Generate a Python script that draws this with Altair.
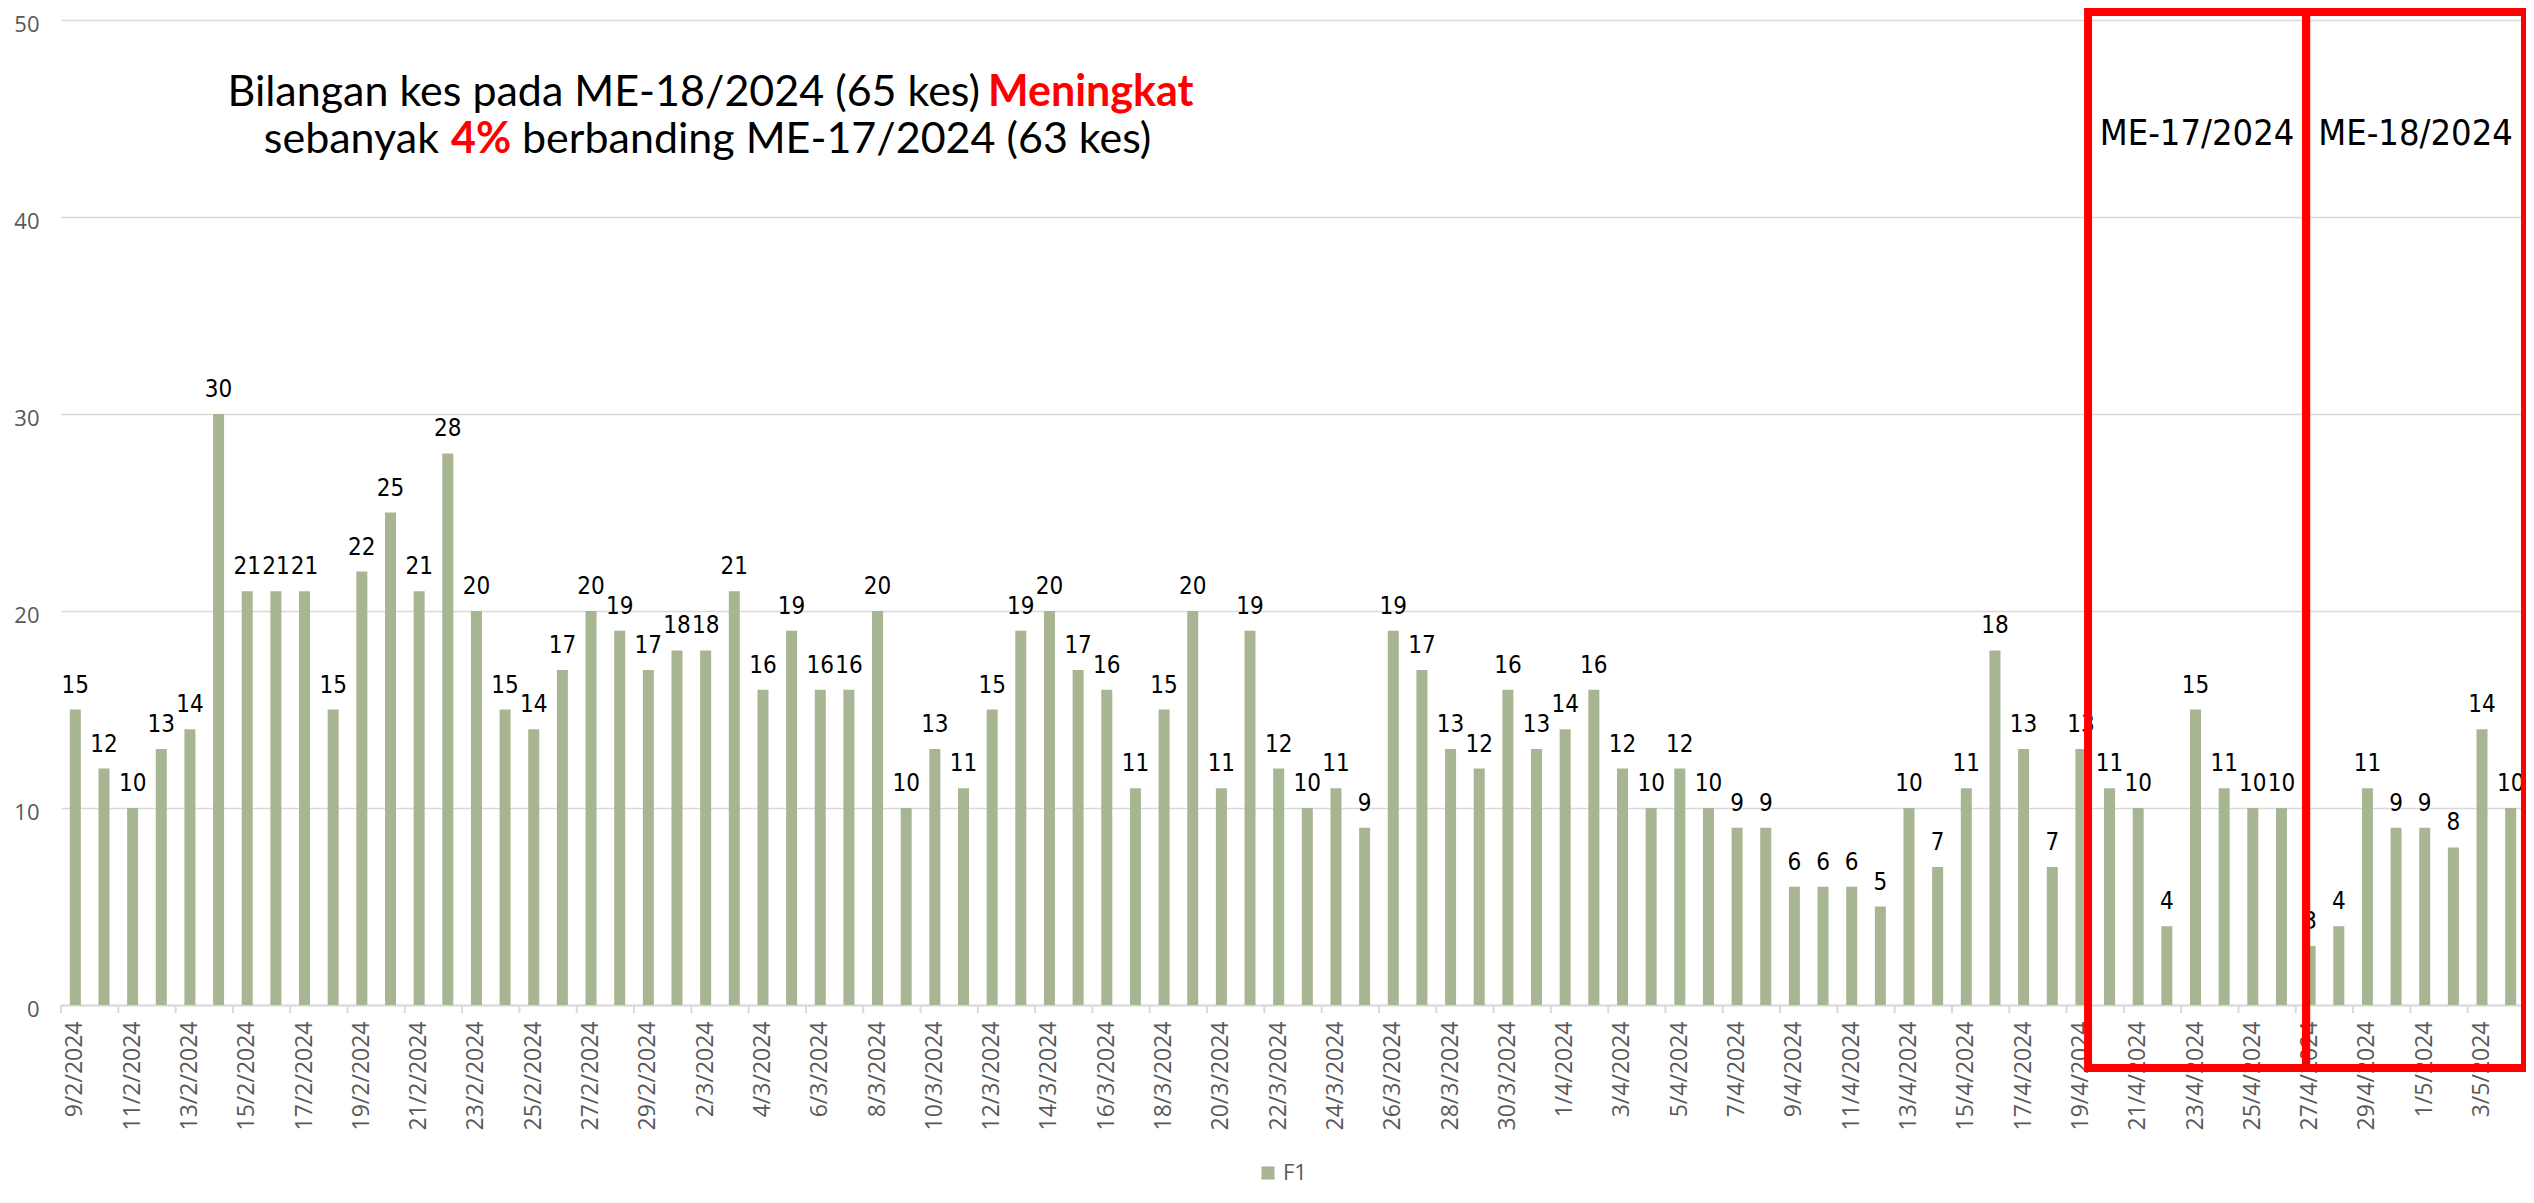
import datetime as dt
import altair as alt
import pandas as pd

# ---- data ----
start = dt.date(2024, 2, 9)
dates = [f"{d.day}/{d.month}/{d.year}" for d in (start + dt.timedelta(days=i) for i in range(86))]
cases = [15, 12, 10, 13, 14, 30, 21, 21, 21, 15, 22, 25, 21, 28, 20, 15, 14, 17, 20, 19,
         17, 18, 18, 21, 16, 19, 16, 16, 20, 10, 13, 11, 15, 19, 20, 17, 16, 11, 15, 20,
         11, 19, 12, 10, 11, 9, 19, 17, 13, 12, 16, 13, 14, 16, 12, 10, 12, 10, 9, 9,
         6, 6, 6, 5, 10, 7, 11, 18, 13, 7, 13, 11, 10, 4, 15, 11, 10, 10, 3, 4,
         11, 9, 9, 8, 14, 10]
series_name = "F1"
y_ticks = [0, 10, 20, 30, 40, 50]
week_labels = ["ME-17/2024", "ME-18/2024"]

df = pd.DataFrame({"date": dates, "cases": cases, "series": series_name,
                   "idx": list(range(len(dates)))})

W, H = 2464, 985
LEFT = 61   # page x of plot left edge
TOP = 20    # page y of plot top edge
step = W / len(dates)
BAR = "#a7b593"
GRID = "#d9d9d9"
AX = "#595959"

xscale = alt.Scale(domain=dates, paddingInner=0, paddingOuter=0)
yscale = alt.Scale(domain=[0, 50])

base = alt.Chart(df)

bars = base.mark_bar(size=11).encode(
    x=alt.X("date:N", scale=xscale, title=None,
            axis=alt.Axis(values=dates[::2], labelAngle=-90, ticks=False,
                          domainColor=GRID, domainWidth=2, labelColor=AX,
                          labelFont="Open Sans", labelFontSize=23, labelPadding=16,
                          grid=False)),
    y=alt.Y("cases:Q", scale=yscale, title=None,
            axis=alt.Axis(values=y_ticks, domain=False, ticks=False, gridColor=GRID,
                          gridWidth=1.5, labelColor=AX, labelFont="Open Sans",
                          labelFontSize=22, labelPadding=22, labelOffset=4)),
    color=alt.Color("series:N", scale=alt.Scale(range=[BAR]), title=None,
                    legend=alt.Legend(orient="none", legendX=1196, legendY=1142,
                                      symbolType="square", symbolSize=170,
                                      symbolStrokeWidth=0, labelFont="Open Sans",
                                      labelFontSize=22, labelColor=AX, padding=0)),
)

labels = base.mark_text(font="DejaVu Sans Condensed", fontSize=24, color="black",
                        baseline="alphabetic", dy=-17).encode(
    x=alt.X("date:N", scale=xscale),
    y=alt.Y("cases:Q", scale=yscale),
    text=alt.Text("cases:Q"),
)

ticks = base.transform_filter("datum.idx % 2 == 0").mark_rule(
    color=GRID, strokeWidth=2).encode(
    x=alt.X("date:N", scale=xscale, bandPosition=0),
    y=alt.value(H), y2=alt.value(H + 8),
)

bx0, bx1, bx2 = step * 70.75, step * 78.36, W
box_top, box_bot = 12 - TOP, 1068 - TOP
one = pd.DataFrame({"a": [0]})
box1 = alt.Chart(one).mark_rect(fillOpacity=0, stroke="#ff0000", strokeWidth=8).encode(
    x=alt.value(bx0), x2=alt.value(bx1), y=alt.value(box_top), y2=alt.value(box_bot))
box2 = alt.Chart(one).mark_rect(fillOpacity=0, stroke="#ff0000", strokeWidth=8).encode(
    x=alt.value(bx1), x2=alt.value(bx2), y=alt.value(box_top), y2=alt.value(box_bot))

wk1 = alt.Chart(one).mark_text(text=week_labels[0], font="DejaVu Sans Condensed",
                               fontSize=36, color="black", align="center",
                               baseline="alphabetic").encode(
    x=alt.value((bx0 + bx1) / 2), y=alt.value(145 - TOP))
wk2 = alt.Chart(one).mark_text(text=week_labels[1], font="DejaVu Sans Condensed",
                               fontSize=36, color="black", align="center",
                               baseline="alphabetic").encode(
    x=alt.value((bx1 + bx2) / 2), y=alt.value(145 - TOP))

TF = "Lato"
TS = 43


def tpiece(txt, x, y, align, color="black", weight="normal"):
    return alt.Chart(one).mark_text(text=txt, font=TF, fontSize=TS, color=color,
                                    fontWeight=weight, align=align,
                                    baseline="alphabetic").encode(
        x=alt.value(x - LEFT), y=alt.value(y - TOP))


t1a = tpiece("Bilangan kes pada ME-18/2024 (65 kes)", 980, 106, "right")
t1b = tpiece("Meningkat", 988, 106, "left", "#ff0000", "bold")
t2a = tpiece("sebanyak", 439, 153, "right")
t2b = tpiece("4%", 451, 153, "left", "#ff0000", "bold")
t2c = tpiece("berbanding ME-17/2024 (63 kes)", 522, 153, "left")

chart = alt.layer(bars, labels, ticks, box1, box2, wk1, wk2, t1a, t1b, t2a, t2b, t2c).properties(
    width=W, height=H, autosize="none",
    padding={"left": LEFT - 8, "top": TOP - 8, "right": 1, "bottom": 186},
    background="white",
).configure_view(stroke=None)

chart.save("out.html", embed_options={"renderer": "svg", "actions": False})
